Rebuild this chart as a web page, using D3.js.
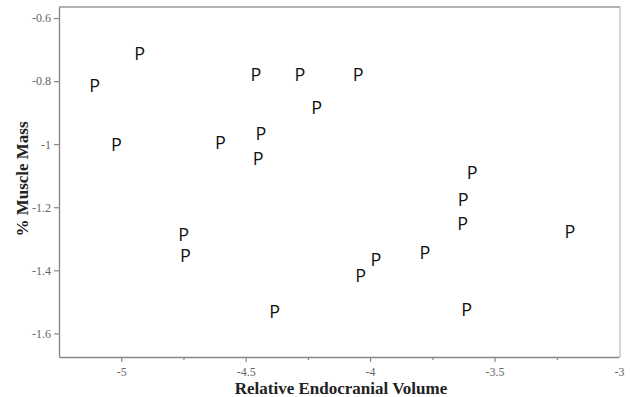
<!DOCTYPE html>
<html>
<head>
<meta charset="utf-8">
<script src="https://cdn.jsdelivr.net/npm/d3@7"></script>
<style>
  html, body { margin: 0; padding: 0; background: #fff; }
  svg { display: block; }
</style>
</head>
<body>
<svg id="chart" width="630" height="397"></svg>
<script>
// Relative endocranial volume (x) vs % muscle mass (y), each specimen marked "P"
const endocranialVolume = [
  -4.926, -5.107, -4.459, -4.282, -4.048, -4.215, -5.019, -4.601, -4.439, -4.450,
  -3.590, -3.626, -3.628, -3.197, -4.749, -4.742, -4.383, -3.977, -4.038, -3.780, -3.612
];
const muscleMass = [
  -0.711, -0.813, -0.779, -0.779, -0.779, -0.885, -1.002, -0.996, -0.965, -1.047,
  -1.090, -1.177, -1.251, -1.277, -1.285, -1.354, -1.531, -1.367, -1.418, -1.344, -1.526
];
const pointLabels = endocranialVolume.map(() => "P");

const xTicks = [-5, -4.5, -4, -3.5, -3];
const xMinorTicks = [-4.75, -4.25, -3.75, -3.25];
const xTickLabels = ["-5", "-4.5", "-4", "-3.5", "-3"];
const yTicks = [-0.6, -0.8, -1, -1.2, -1.4, -1.6];
const yTickLabels = ["-0.6", "-0.8", "-1", "-1.2", "-1.4", "-1.6"];

const xTitle = "Relative Endocranial Volume";
const yTitle = "% Muscle Mass";

const svg = d3.select("#chart");
const W = 630, H = 397;
const margin = { top: 7, right: 11, bottom: 40, left: 59 };
const iw = W - margin.left - margin.right;
const ih = H - margin.top - margin.bottom;

const x = d3.scaleLinear().domain([-5.25, -3]).range([0, iw]);
const y = d3.scaleLinear().domain([-1.675, -0.565]).range([ih, 0]);

const g = svg.append("g").attr("transform", `translate(${margin.left},${margin.top})`);

// frame: top and right edges
g.append("line").attr("x1", 0).attr("x2", iw + 1).attr("y1", 0).attr("y2", 0)
  .attr("stroke", "#666").attr("stroke-width", 1.2);
g.append("line").attr("x1", iw + 1).attr("x2", iw + 1).attr("y1", 0).attr("y2", ih)
  .attr("stroke", "#bbb").attr("stroke-width", 1.2);

const tickFont = "Liberation Serif, Times New Roman, serif";

// bottom axis
const xAxis = g.append("g").attr("transform", `translate(0,${ih})`)
  .call(d3.axisBottom(x).tickValues(xTicks)
    .tickFormat((d, i) => xTickLabels[i]).tickSize(5).tickSizeOuter(0).tickPadding(5));
xAxis.selectAll(".tick").filter(d => d === -3).select("line").remove();
const xMinor = g.append("g").attr("transform", `translate(0,${ih})`)
  .call(d3.axisBottom(x).tickValues(xMinorTicks).tickFormat("").tickSize(3).tickSizeOuter(0));
xMinor.select(".domain").remove();

// left axis
const yAxis = g.append("g")
  .call(d3.axisLeft(y).tickValues(yTicks)
    .tickFormat((d, i) => yTickLabels[i]).tickSize(5).tickSizeOuter(0).tickPadding(3));

[xAxis, xMinor, yAxis].forEach(a => {
  a.selectAll(".domain").attr("stroke", "#888").attr("stroke-width", 1.4);
  a.selectAll(".tick line").attr("stroke", "#888").attr("stroke-width", 1.2);
  a.selectAll(".tick text").attr("fill", "#666")
    .style("font-family", tickFont).style("font-size", "12px");
});

// axis titles
svg.append("text")
  .attr("x", margin.left + iw / 2 + 2).attr("y", 394)
  .attr("text-anchor", "middle")
  .style("font-family", tickFont).style("font-weight", "bold").style("font-size", "17px")
  .attr("fill", "#222")
  .text(xTitle);

svg.append("text")
  .attr("transform", `translate(28,${margin.top + 172}) rotate(-90)`)
  .attr("text-anchor", "middle")
  .style("font-family", tickFont).style("font-weight", "bold").style("font-size", "17px")
  .attr("fill", "#222")
  .text(yTitle);

// point markers drawn as letters
g.selectAll("text.pt")
  .data(endocranialVolume.map((v, i) => ({ x: v, y: muscleMass[i], label: pointLabels[i] })))
  .enter().append("text")
  .attr("class", "pt")
  .attr("x", d => x(d.x))
  .attr("y", d => y(d.y))
  .attr("dy", "0.36em")
  .attr("text-anchor", "middle")
  .style("font-family", "Open Sans, Noto Sans, sans-serif")
  .style("font-size", "18px")
  .attr("fill", "#111")
  .text(d => d.label);
</script>
</body>
</html>
